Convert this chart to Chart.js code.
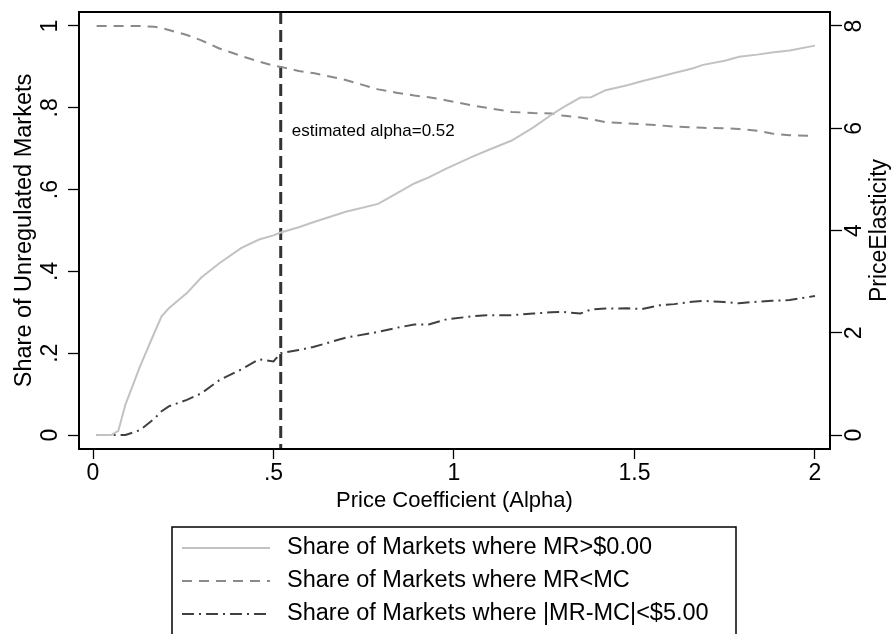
<!DOCTYPE html>
<html>
<head>
<meta charset="utf-8">
<script src="https://cdn.jsdelivr.net/npm/chart.js@4.4.0/dist/chart.umd.min.js"></script>
<style>
  html, body { margin: 0; padding: 0; background: #fff; }
  #wrap { position: relative; width: 894px; height: 634px; }
</style>
</head>
<body>
<div id="wrap"><canvas id="chart"></canvas></div>
<script>
// Price coefficient grid
const alphaValues = [0.01, 0.05, 0.07, 0.09, 0.13, 0.17, 0.19, 0.21, 0.26, 0.30, 0.35, 0.41, 0.46, 0.50, 0.52,
  0.57, 0.61, 0.70, 0.79, 0.84, 0.89, 0.93, 0.98, 1.05, 1.09, 1.16, 1.22, 1.27, 1.30, 1.35, 1.38,
  1.42, 1.48, 1.52, 1.57, 1.61, 1.66, 1.69, 1.75, 1.79, 1.84, 1.88, 1.93, 2.00];

const shareMrPositive = [0, 0, 0.01, 0.075, 0.167, 0.25, 0.29, 0.31, 0.347, 0.385, 0.42, 0.457, 0.478, 0.488, 0.495,
  0.508, 0.52, 0.546, 0.565, 0.59, 0.615, 0.63, 0.652, 0.68, 0.695, 0.72, 0.752, 0.783, 0.80, 0.825, 0.826,
  0.843, 0.855, 0.865, 0.876, 0.885, 0.896, 0.905, 0.915, 0.925, 0.93, 0.935, 0.94, 0.952];

const shareMrBelowMc = [1, 1, 1, 1, 1, 0.998, 0.995, 0.99, 0.978, 0.965, 0.945, 0.927, 0.913, 0.903, 0.9,
  0.89, 0.885, 0.868, 0.845, 0.837, 0.83, 0.826, 0.818, 0.806, 0.8, 0.79, 0.787, 0.786, 0.781, 0.776, 0.772,
  0.765, 0.762, 0.76, 0.757, 0.754, 0.752, 0.751, 0.75, 0.748, 0.744, 0.737, 0.733, 0.731];

const shareMrNearMc = [0, 0, 0, 0, 0.012, 0.04, 0.058, 0.07, 0.086, 0.102, 0.134, 0.16, 0.185, 0.18, 0.2,
  0.208, 0.215, 0.238, 0.252, 0.262, 0.27, 0.27, 0.283, 0.29, 0.293, 0.293, 0.297, 0.3, 0.301, 0.297, 0.307,
  0.309, 0.31, 0.308, 0.317, 0.32, 0.326, 0.328, 0.325, 0.322, 0.326, 0.328, 0.33, 0.34];

const seriesLabels = [
  "Share of Markets where MR>$0.00",
  "Share of Markets where MR<MC",
  "Share of Markets where |MR-MC|<$5.00"
];

const xTickValues = [0, 0.5, 1, 1.5, 2];
const xTickLabels = ["0", ".5", "1", "1.5", "2"];
const leftTickValues = [0, 0.2, 0.4, 0.6, 0.8, 1];
const leftTickLabels = ["0", ".2", ".4", ".6", ".8", "1"];
const rightTickValues = [0, 2, 4, 6, 8];
const rightTickLabels = ["0", "2", "4", "6", "8"];

const estimatedAlpha = 0.52;
const estimateLabel = "estimated alpha=0.52";
const estimateLabelY = 0.743;

const FONT = '"Liberation Sans", Arial, Helvetica, sans-serif';

const toPoints = (values) => values.map((v, i) => ({ x: alphaValues[i], y: v }));

// Stata-style extras: frame, rotated y labels, xline, boxed legend
const stataDecor = {
  id: "stataDecor",
  beforeDatasetsDraw(chart) {
    const { ctx, chartArea, scales } = chart;
    const px = scales.x.getPixelForValue(estimatedAlpha);
    ctx.save();
    ctx.strokeStyle = "#333333";
    ctx.lineWidth = 3;
    ctx.setLineDash([12, 6]);
    ctx.beginPath();
    ctx.moveTo(px, chartArea.top);
    ctx.lineTo(px, chartArea.bottom);
    ctx.stroke();
    ctx.restore();
  },
  afterDatasetsDraw(chart) {
    const { ctx, chartArea, scales } = chart;
    ctx.save();

    // plot frame
    ctx.strokeStyle = "#000";
    ctx.lineWidth = 2;
    ctx.strokeRect(chartArea.left, chartArea.top, chartArea.right - chartArea.left, chartArea.bottom - chartArea.top);

    // annotation next to the xline
    ctx.fillStyle = "#000";
    ctx.font = `17px ${FONT}`;
    ctx.textAlign = "left";
    ctx.textBaseline = "middle";
    ctx.fillText(estimateLabel, scales.x.getPixelForValue(estimatedAlpha) + 11, scales.y.getPixelForValue(estimateLabelY));

    // rotated tick labels on both y axes
    const drawRotated = (text, x, y, size) => {
      ctx.save();
      ctx.translate(x, y);
      ctx.rotate(-Math.PI / 2);
      ctx.font = `${size}px ${FONT}`;
      ctx.textAlign = "center";
      ctx.textBaseline = "middle";
      ctx.fillText(text, 0, 0);
      ctx.restore();
    };
    leftTickValues.forEach((v, i) => drawRotated(leftTickLabels[i], 51, scales.y.getPixelForValue(v), 23));
    rightTickValues.forEach((v, i) => drawRotated(rightTickLabels[i], 855, scales.y1.getPixelForValue(v), 23));

    const midY = (chartArea.top + chartArea.bottom) / 2;
    drawRotated("Share of Unregulated Markets", 25, midY, 23.5);
    drawRotated("PriceElasticity", 880, midY, 23);

    // legend box
    ctx.strokeStyle = "#000";
    ctx.lineWidth = 1.5;
    ctx.strokeRect(172, 527, 564, 130);
    const rowY = [548, 581, 614];
    chart.data.datasets.forEach((ds, i) => {
      ctx.save();
      ctx.strokeStyle = ds.borderColor;
      ctx.lineWidth = ds.borderWidth;
      ctx.setLineDash(ds.borderDash || []);
      ctx.beginPath();
      ctx.moveTo(182, rowY[i]);
      ctx.lineTo(270, rowY[i]);
      ctx.stroke();
      ctx.restore();
      ctx.fillStyle = "#000";
      ctx.font = `23.5px ${FONT}`;
      ctx.textAlign = "left";
      ctx.textBaseline = "middle";
      ctx.fillText(ds.label, 287, rowY[i]);
    });

    ctx.restore();
  }
};

const tickGrid = (len) => ({
  display: true,
  drawOnChartArea: false,
  drawTicks: true,
  tickLength: len,
  tickColor: "#000",
  tickWidth: 1.3
});

new Chart(document.getElementById("chart"), {
  type: "line",
  data: {
    datasets: [
      {
        label: seriesLabels[0],
        data: toPoints(shareMrPositive),
        borderColor: "#c2c2c2",
        borderWidth: 2,
        pointRadius: 0,
        tension: 0
      },
      {
        label: seriesLabels[1],
        data: toPoints(shareMrBelowMc),
        borderColor: "#8a8a8a",
        borderWidth: 2,
        borderDash: [10, 7],
        pointRadius: 0,
        tension: 0
      },
      {
        label: seriesLabels[2],
        data: toPoints(shareMrNearMc),
        borderColor: "#404040",
        borderWidth: 2,
        borderDash: [12, 5, 2, 5],
        pointRadius: 0,
        tension: 0
      }
    ]
  },
  options: {
    responsive: true,
    maintainAspectRatio: false,
    animation: false,
    layout: {
      padding: { top: 12, left: 0, right: 0, bottom: 117 }
    },
    plugins: {
      legend: { display: false },
      tooltip: { enabled: false }
    },
    scales: {
      x: {
        type: "linear",
        position: "bottom",
        min: -0.0388,
        max: 2.0416,
        afterBuildTicks: (scale) => {
          scale.ticks = xTickValues.map((value) => ({ value }));
        },
        afterFit: (scale) => {
          scale.height = 68;
        },
        ticks: {
          padding: 1,
          color: "#000",
          font: { family: FONT, size: 23 },
          callback: (value) => xTickLabels[xTickValues.indexOf(value)]
        },
        grid: tickGrid(10),
        border: { display: false },
        title: {
          display: true,
          text: "Price Coefficient (Alpha)",
          color: "#000",
          font: { family: FONT, size: 22 },
          padding: { top: 0, bottom: 3 }
        }
      },
      y: {
        type: "linear",
        position: "left",
        min: -0.0342,
        max: 1.0342,
        afterBuildTicks: (scale) => {
          scale.ticks = leftTickValues.map((value) => ({ value }));
        },
        afterFit: (scale) => {
          scale.width = 79;
        },
        ticks: { display: false },
        grid: tickGrid(11),
        border: { display: false }
      },
      y1: {
        type: "linear",
        position: "right",
        min: -0.2736,
        max: 8.2736,
        afterBuildTicks: (scale) => {
          scale.ticks = rightTickValues.map((value) => ({ value }));
        },
        afterFit: (scale) => {
          scale.width = 64;
        },
        ticks: { display: false },
        grid: tickGrid(12),
        border: { display: false }
      }
    }
  },
  plugins: [stataDecor]
});
</script>
</body>
</html>
